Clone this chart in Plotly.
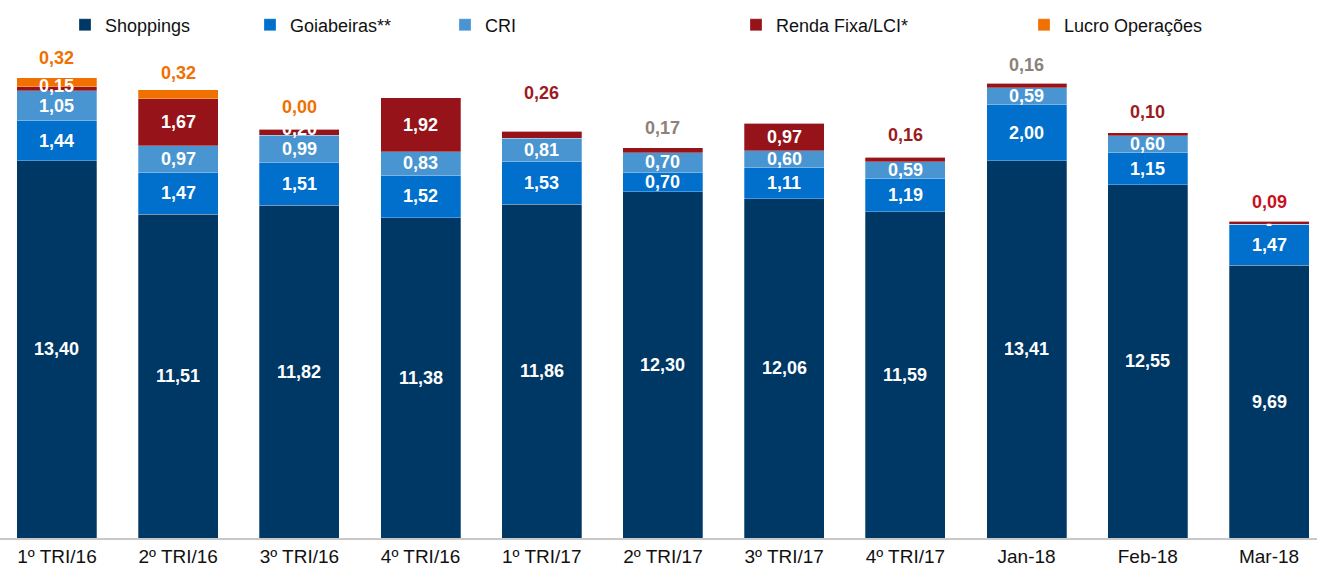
import plotly.graph_objects as go

categories = ["1º TRI/16", "2º TRI/16", "3º TRI/16", "4º TRI/16", "1º TRI/17", "2º TRI/17",
              "3º TRI/17", "4º TRI/17", "Jan-18", "Feb-18", "Mar-18"]
shoppings = [13.40, 11.51, 11.82, 11.38, 11.86, 12.30, 12.06, 11.59, 13.41, 12.55, 9.69]
goiabeiras = [1.44, 1.47, 1.51, 1.52, 1.53, 0.70, 1.11, 1.19, 2.00, 1.15, 1.47]
cri = [1.05, 0.97, 0.99, 0.83, 0.81, 0.70, 0.60, 0.59, 0.59, 0.60, 0.00]
renda_fixa = [0.15, 1.67, 0.20, 1.92, 0.26, 0.17, 0.97, 0.16, 0.16, 0.10, 0.09]
lucro = [0.32, 0.32, 0.00, None, None, None, None, None, None, None, None]

# which renda fixa labels sit above the bar, and in what colour
renda_on_top = [False, False, False, False, True, True, False, True, True, True, True]
renda_top_color = [None, None, None, None, "#9b1b1f", "#8c8279", None, "#9b1b1f", "#8c8279", "#9b1b1f", "#c8101e"]
top_shift = [20, 17, 22, 20, 38, 20, 20, 22, 18, 21, 19]

series = [
    ("Shoppings", shoppings, "#003865"),
    ("Goiabeiras**", goiabeiras, "#0070cc"),
    ("CRI", cri, "#4895d1"),
    ("Renda Fixa/LCI*", renda_fixa, "#951319"),
    ("Lucro Operações", lucro, "#f07000"),
]
legend_x = [83, 268, 463, 754, 1042]

W, H = 1317, 571
fmt = lambda v: f"{v:.2f}".replace(".", ",")

fig = go.Figure()
for k, (name, vals, col) in enumerate(series):
    fig.add_trace(go.Bar(
        x=categories, y=[v if v is not None else 0 for v in vals], name=name,
        marker=dict(color=col, line=dict(color="rgba(255,255,255,0.35)", width=0.8)),
        width=0.66, hoverinfo="skip", showlegend=True,
        legend="legend" if k == 0 else f"legend{k + 1}",
    ))

annotations = []
label_font = dict(family="Liberation Sans, Arial, sans-serif", size=18, color="white")
for i, cat in enumerate(categories):
    base = 0
    total = sum(s[1][i] or 0 for s in series)
    for k, (name, vals, col) in enumerate(series):
        v = vals[i]
        if v is None:
            continue
        if k == 4:
            annotations.append(dict(x=cat, y=total, text=f"<b>{fmt(v)}</b>", showarrow=False,
                                    yshift=top_shift[i], font=dict(label_font, color="#f07000")))
        elif k == 3 and renda_on_top[i]:
            annotations.append(dict(x=cat, y=total, text=f"<b>{fmt(v)}</b>", showarrow=False,
                                    yshift=top_shift[i], font=dict(label_font, color=renda_top_color[i])))
        else:
            txt = "-" if v == 0 else fmt(v)
            annotations.append(dict(x=cat, y=base + v / 2, text=f"<b>{txt}</b>", showarrow=False,
                                    yshift=3 if (k == 3 and v < 0.3) else 0, font=label_font))
        base += v

legend_font = dict(family="Liberation Sans, Arial, sans-serif", size=18, color="#111111")
layout_legends = {}
for k, lx in enumerate(legend_x):
    key = "legend" if k == 0 else f"legend{k + 1}"
    layout_legends[key] = dict(x=(lx - 18) / W, xanchor="left", y=1.03, yanchor="middle",
                               orientation="h", font=legend_font, bgcolor="rgba(0,0,0,0)",
                               itemclick=False, itemdoubleclick=False)

fig.update_layout(
    barmode="stack",
    width=W, height=H,
    showlegend=True,
    margin=dict(l=0, r=0, t=40, b=33, autoexpand=False),
    paper_bgcolor="white", plot_bgcolor="white",
    annotations=annotations,
    xaxis=dict(range=[-0.47, 10.396], showgrid=False, showline=True, linecolor="#c8c8c8", linewidth=1.5,
               ticks="", automargin=False,
               tickfont=dict(family="Liberation Sans, Arial, sans-serif", size=19, color="#111111"),
               fixedrange=True),
    yaxis=dict(range=[0, 17.70], visible=False, fixedrange=True),
    **layout_legends,
)

fig.write_html("out.html", config={"displayModeBar": False},
               post_script="document.body.style.margin='0';")
